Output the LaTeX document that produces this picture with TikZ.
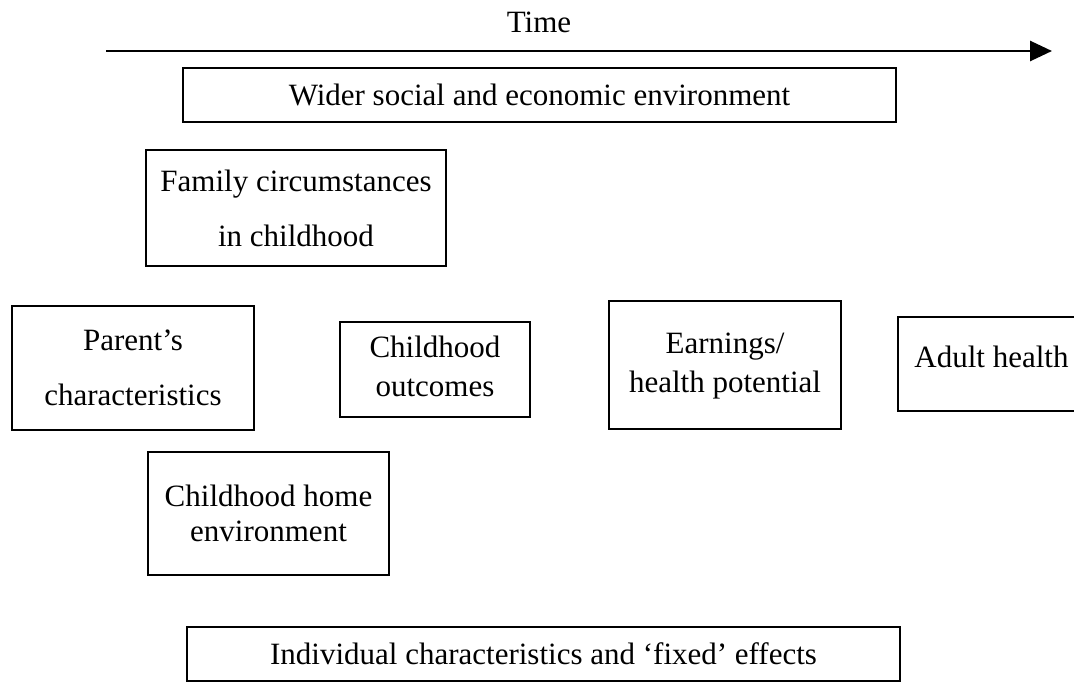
\documentclass[tikz,border=0pt]{standalone}
\usepackage{fontspec}
\setmainfont{Liberation Serif}
\usetikzlibrary{arrows.meta}

\begin{document}
\begin{tikzpicture}[x=0.5pt,y=-0.5pt,
  every node/.style={font=\fontsize{15.5}{19.5}\selectfont},
  box/.style={draw,line width=1.3pt,rectangle,align=center,inner sep=0pt}]
\useasboundingbox (0,0) rectangle (1074,685);
\clip (0,0) rectangle (1074,685);

% time axis
\node (time) at (539,22) {Time};
\coordinate (tstart) at (106,51);
\coordinate (tend) at (1052,51);
\draw[line width=1.4pt,-{Triangle[length=11pt,width=10pt]}] (tstart) -- (tend);

% wide bands
\node[box,minimum width=356.5pt,minimum height=27pt] (wider) at (539.5,95) {Wider social and economic environment};
\node[box,minimum width=356.5pt,minimum height=27pt] (indiv) at (543.5,654) {Individual characteristics and `fixed' effects};

% childhood
\node[box,minimum width=150pt,minimum height=58pt] (family) at (296,208) {Family circumstances\\[8pt]in childhood};
\node[box,minimum width=121pt,minimum height=62pt] (parent) at (133,368) {Parent's\\[8pt]characteristics};
\node[box,minimum width=120.5pt,minimum height=61.5pt] (home) at (268.5,513.5) {Childhood home\\[-2pt]environment};
\node[box,minimum width=95pt,minimum height=47.5pt] (outcome) at (435,369.5) {\raisebox{2.5pt}{\shortstack{\strut Childhood\\[-3pt]\strut outcomes}}};

% adulthood
\node[box,minimum width=116pt,minimum height=64pt] (earn) at (725,365) {\raisebox{2.5pt}{\shortstack{\strut Earnings/\\[-3pt]\strut health potential}}};
\node[box,minimum width=93.5pt,minimum height=47pt] (adult) at (991.5,364) {\raisebox{7.5pt}{Adult health}};

\end{tikzpicture}
\end{document}
